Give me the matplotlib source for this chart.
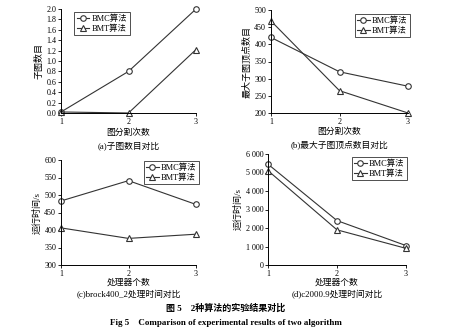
import matplotlib
matplotlib.use("Agg")
import matplotlib.pyplot as plt
from matplotlib.ticker import FuncFormatter

plt.rcParams['font.family'] = ['Liberation Serif', 'Noto Sans CJK SC', 'DejaVu Sans']

x = [1, 2, 3]
a_bmc = [0.02, 0.8, 2.0]
a_bmt = [0.02, 0.0, 1.22]
b_bmc = [420, 320, 278]
b_bmt = [468, 265, 200]
c_bmc = [483, 541, 473]
c_bmt = [406, 376, 388]
d_bmc = [5450, 2400, 1050]
d_bmt = [5100, 1900, 900]
labels = ["BMC算法", "BMT算法"]

W, H = 451, 336
fig = plt.figure(figsize=(W/100, H/100), dpi=100)

def ax_px(l, t, r, b):
    return fig.add_axes([l/W, 1 - b/H, (r-l)/W, (b-t)/H])

def style(ax, ylim, yticks, ylabel, xlabel, caption, cap_y, xl_y, legloc, legxy, fmt=None):
    ax.set_xlim(1, 3)
    ax.set_ylim(*ylim)
    ax.set_xticks(x)
    ax.set_yticks(yticks)
    if fmt:
        ax.yaxis.set_major_formatter(FuncFormatter(fmt))
    for s in ['top', 'right']:
        ax.spines[s].set_visible(False)
    for s in ['left', 'bottom']:
        ax.spines[s].set_linewidth(0.7)
    ax.tick_params(labelsize=5.8, length=2, width=0.6, pad=1.5)
    ax.set_ylabel(ylabel, fontsize=6.5, labelpad=2)
    bb = ax.get_position()
    cx = (bb.x0 + bb.x1) / 2
    fig.text(cx, 1 - xl_y/H, xlabel, ha='center', va='center', fontsize=6.3)
    fig.text(cx, 1 - cap_y/H, caption, ha='center', va='center', fontsize=6.3)
    leg = ax.legend(loc=legloc, bbox_to_anchor=(legxy[0]/W, 1 - legxy[1]/H),
                    bbox_transform=fig.transFigure,
                    fontsize=6, frameon=True, fancybox=False,
                    edgecolor='black', handlelength=1.5, borderpad=0.3,
                    labelspacing=0.15, handletextpad=0.3, borderaxespad=0)
    leg.get_frame().set_linewidth(0.6)

def plot2(ax, y1, y2):
    ax.plot(x, y1, '-o', color='#333333', lw=0.8, ms=4, mfc='white', mew=0.8,
            label=labels[0], clip_on=False)
    ax.plot(x, y2, '-^', color='#333333', lw=0.8, ms=4, mfc='white', mew=0.8,
            label=labels[1], clip_on=False)

thou = lambda v, p: f"{int(v):,}".replace(",", " ")

ax = ax_px(61, 9, 196, 113)
plot2(ax, a_bmc, a_bmt)
style(ax, (0, 2.0), [0, 0.2, 0.4, 0.6, 0.8, 1.0, 1.2, 1.4, 1.6, 1.8, 2.0], "子图数目",
      "图分割次数", "(a)子图数目对比", 146, 133, 'upper left', (74, 12),
      fmt=lambda v, p: f"{v:.1f}")

ax = ax_px(271, 10, 408, 113)
plot2(ax, b_bmc, b_bmt)
style(ax, (200, 500), [200, 250, 300, 350, 400, 450, 500], "最大子图顶点数目",
      "图分割次数", "(b)最大子图顶点数目对比", 145, 132, 'upper right', (410, 14))

ax = ax_px(61, 160, 196, 265)
plot2(ax, c_bmc, c_bmt)
style(ax, (300, 600), [300, 350, 400, 450, 500, 550, 600], "运行时间/s",
      "处理器个数", "(c)brock400_2处理时间对比", 295, 283, 'upper right', (199, 161))

ax = ax_px(268, 154, 406, 265)
plot2(ax, d_bmc, d_bmt)
style(ax, (0, 6000), [0, 1000, 2000, 3000, 4000, 5000, 6000], "运行时间/s",
      "处理器个数", "(d)c2000.9处理时间对比", 295, 283, 'upper right', (407, 157), fmt=thou)

fig.text(0.5, 1 - 308/H, "图 5　2种算法的实验结果对比", ha='center', va='center',
         fontsize=6.5, fontweight='bold')
fig.text(0.5, 1 - 323/H, "Fig 5    Comparison of experimental results of two algorithm",
         ha='center', va='center', fontsize=6.5, fontweight='bold')

fig.savefig("out.png", dpi=100)
